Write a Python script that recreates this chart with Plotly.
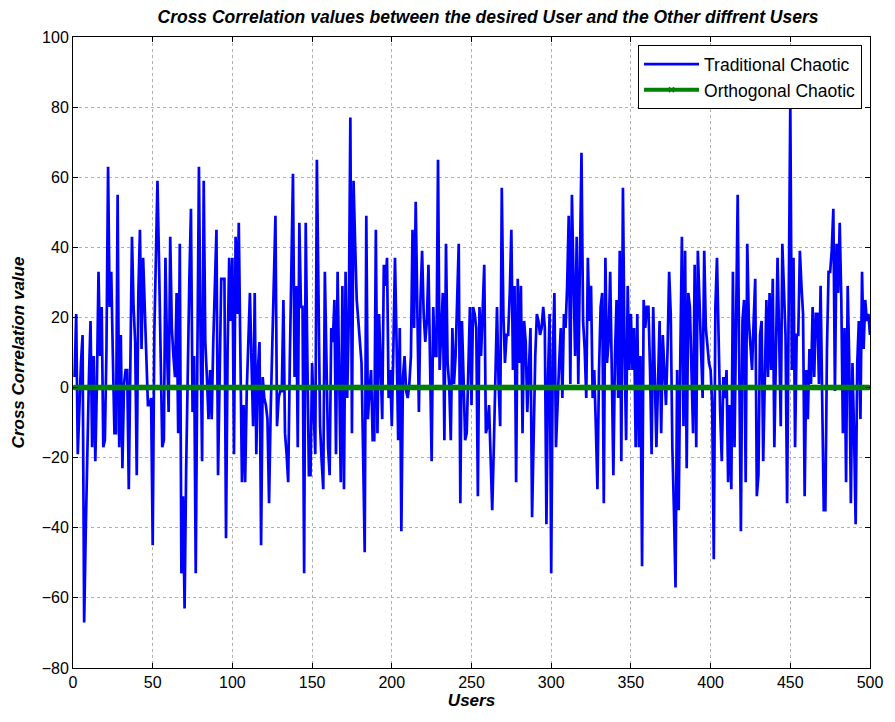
import plotly.graph_objects as go

users = list(range(1, 501))

traditional = [
    3, 21, -19, -5, 7, 15, -67, -41, -13, 3, 19, -17, 9, -21, 1, 33, 9, 23, -17, -15,
    11, 63, 23, 33, 9, -13, -13, 55, -17, 15, -23, 1, 5, 5, -29, 11, 43, 23, 13, -25,
    27, 45, 11, 37, 25, 9, -5, -5, -3, -45,
    15, 41, 59, 35, 5, -17, -15, 37, 11, -7, 43, 17, 9, 3, 27, -13, 41, -53, -31, -63,
    -23, 11, 31, 51, -7, 9, -53, 7, 63, 15, -21, 59, 13, 3, -9, 5, -9, 13, 27, 45,
    -25, 7, 31, 31, 31, -43, 11, 37, 19, 37,
    -19, 43, 21, 47, 9, -27, -5, -27, -1, 13, 27, 7, -11, 27, -19, 5, 13, -45, 3, -3,
    -5, -9, -33, -7, 15, 33, 49, -11, -3, -1, -1, 25, -13, -19, -27, 7, 31, 61, 3, 29,
    -17, 47, 23, 23, -53, 47, 9, -25, -25, 7,
    -7, -19, 65, 21, -11, -21, -29, 33, 5, -17, -25, 17, 13, 25, -19, 33, 3, -27, 29, -29,
    33, -3, 19, 77, -13, 59, 41, 25, 19, 13, 7, -19, -47, 49, -9, -1, 5, -15, -15, 45,
    -13, 21, 3, -9, 35, 29, 37, -3, 5, -11,
    11, 37, 13, -15, 17, -41, 3, 9, -1, -3, 1, 9, 45, 17, 53, 19, -7, 25, 39, 21,
    13, 19, 35, 7, -21, 23, 9, 9, 65, 5, 15, 27, -15, 41, 7, 1, -15, 17, 1, 9,
    25, 41, -33, 19, 3, -15, -13, 7, 23, -5,
    23, 21, 17, -31, 23, 9, 21, 35, -13, -11, -5, -21, -35, -17, 9, 23, 1, -11, 57, 21,
    7, 15, 15, 27, 45, 5, 29, -27, 31, 7, 29, -13, 19, 13, -7, 5, 17, -37, -7, 9,
    21, 19, 15, 17, 23, 17, -39, 3, 21, -53,
    9, 27, -17, -3, 7, 17, -3, 21, 17, 29, 49, 1, 55, 31, 9, 43, 1, 35, 67, 19,
    11, -3, 37, 19, 29, -3, 5, -11, -29, 5, 23, 27, -33, 37, 7, 13, 33, 5, -25, 9,
    25, -3, 39, -21, 57, 11, -15, 29, 5, 21,
    5, 17, -17, 21, -17, 9, -51, 25, 17, 23, 23, 5, -19, 23, 3, -17, 1, 19, -13, 15,
    5, -5, 11, 33, 21, -17, -35, -57, 5, -35, 9, 43, -11, 39, -23, 27, 23, 3, -13, 35,
    -17, 39, 21, 11, -3, 39, 17, 11, 7, 5,
    -5, -49, 23, 37, 13, -7, -21, 3, -3, 5, -27, -5, -29, 33, -17, 21, 55, 5, -41, 19,
    25, -27, 41, 19, 11, 5, 19, 31, -31, -25, 15, 19, -21, 9, 25, 3, 27, 5, 31, -17,
    15, 37, 15, -11, 41, 29, 15, -33, 23, 81,
    5, 37, -17, 15, 15, 39, 29, 21, -31, 5, -9, 11, 1, 23, 3, 21, 21, 1, 29, -9,
    -35, -35, 11, 33, 33, 39, 51, -1, 41, 27, 47, 25, -13, 17, -27, 29, 7, -33, 7, -13,
    -39, 7, 19, -9, 33, 11, 25, 19, 21, 15,
]

orthogonal = [0] * 500

x_ticks = [0, 50, 100, 150, 200, 250, 300, 350, 400, 450, 500]
y_ticks = [-80, -60, -40, -20, 0, 20, 40, 60, 80, 100]

FONT = "Liberation Sans, Arial, sans-serif"

fig = go.Figure()
fig.add_trace(go.Scatter(
    x=users, y=traditional, mode="lines", name="Traditional Chaotic",
    line=dict(color="#0000FF", width=2.7),
))
fig.add_trace(go.Scatter(
    x=users, y=orthogonal, mode="lines+markers", name="Orthogonal Chaotic",
    line=dict(color="#008000", width=4),
    marker=dict(symbol="x-thin", size=5, color="#008000", line=dict(color="#008000", width=1.5)),
))

axis_common = dict(
    showgrid=True, gridcolor="#b0b0b0", griddash="dot", gridwidth=1,
    zeroline=False, showline=True, linecolor="black", linewidth=1, mirror="ticks",
    ticks="inside", ticklen=5, tickcolor="black",
    tickfont=dict(family=FONT, size=16, color="black"),
)

fig.update_layout(
    width=895, height=722,
    margin=dict(l=73, r=16, t=37, b=54),
    paper_bgcolor="white", plot_bgcolor="white",
    title=dict(
        text="<b><i>Cross Correlation values between the desired User and the Other diffrent Users</i></b>",
        x=488 / 895, xanchor="center", y=1 - 17 / 722, yanchor="middle",
        font=dict(family=FONT, size=17.5, color="black"),
    ),
    xaxis=dict(
        range=[0, 500], tickvals=x_ticks,
        title=dict(text="<b><i>Users</i></b>", font=dict(family=FONT, size=17, color="black"), standoff=0),
        **axis_common,
    ),
    yaxis=dict(
        range=[-80, 100], tickvals=y_ticks,
        title=dict(text="<b><i>Cross Correlation value</i></b>", font=dict(family=FONT, size=17, color="black"), standoff=12),
        **axis_common,
    ),
    legend=dict(
        x=0.99, xanchor="right", y=0.987, yanchor="top",
        bgcolor="white", bordercolor="black", borderwidth=1,
        font=dict(family=FONT, size=17.5, color="black"),
        tracegroupgap=0, itemwidth=55,
    ),
    showlegend=True,
)

fig.write_html("out.html")
